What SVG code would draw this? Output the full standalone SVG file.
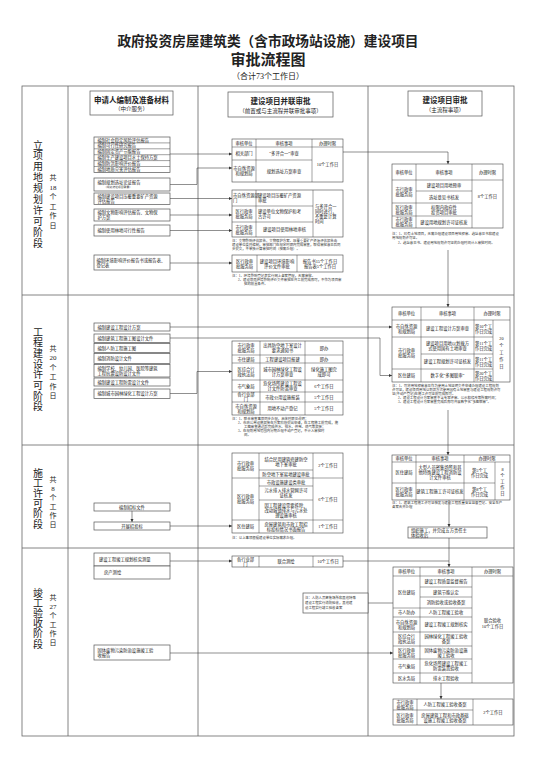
<svg xmlns="http://www.w3.org/2000/svg" width="536" height="757" viewBox="0 0 536 757">
<defs>
<style>
text{font-family:"Liberation Serif","Noto Sans CJK SC",serif;fill:#222}
.c{font-size:4.3px;text-anchor:middle;dominant-baseline:central}
.s{font-size:4.3px;text-anchor:start;dominant-baseline:central}
.n{font-size:3.4px;text-anchor:start;dominant-baseline:central;fill:#333}
.st{font-size:10px;text-anchor:middle;dominant-baseline:central}
.sd{font-size:7px;text-anchor:middle;dominant-baseline:central}
.bx{fill:#fff;stroke:#555;stroke-width:0.7}
.tb{fill:#fff;stroke:#444;stroke-width:0.6}
.gl{fill:none;stroke:#444;stroke-width:0.5}
.cn{fill:none;stroke:#444;stroke-width:0.6}
.fr{fill:none;stroke:#666;stroke-width:0.8}
.h1{font-size:7.5px;font-weight:bold;text-anchor:middle;dominant-baseline:central}
.h2{font-size:5.5px;text-anchor:middle;dominant-baseline:central}
</style>
<marker id="ar" viewBox="0 0 6 6" refX="6" refY="3" markerWidth="3.5" markerHeight="3.5" markerUnits="userSpaceOnUse" orient="auto"><path d="M0,0 L6,3 L0,6 z" fill="#333"/></marker>
</defs>
<rect width="536" height="757" fill="#fff"/>

<g id="title">
<text x="268" y="41" font-size="13.7" font-weight="bold" text-anchor="middle" dominant-baseline="central">政府投资房屋建筑类（含市政场站设施）建设项目</text>
<text x="268" y="60" font-size="15" font-weight="bold" text-anchor="middle" dominant-baseline="central">审批流程图</text>
<text x="268" y="76" font-size="8" text-anchor="middle" dominant-baseline="central">（合计73个工作日）</text>
</g>

<g id="frame">
<rect class="fr" x="22" y="86" width="492" height="650"/>
<path class="fr" d="M68,86V736 M198,86V736 M368,86V736 M22,295H514 M22,445H514 M22,548H514"/>
</g>

<g id="headers">
<g id="hdr-left"><rect class="bx" x="90" y="91" width="83" height="24"/><text class="h1" x="131.5" y="100">申请人编制及准备材料</text><text class="h2" x="131.5" y="109">（中介服务）</text></g>
<g id="hdr-mid"><rect class="bx" x="228" y="92" width="105" height="25"/><text class="h1" x="280.5" y="101">建设项目并联审批</text><text class="h2" x="280.5" y="111">（前置或与主流程并联审批事项）</text></g>
<g id="hdr-right"><rect class="bx" x="408" y="91" width="74" height="25"/><text class="h1" x="445" y="100">建设项目审批</text><text class="h2" x="445" y="110">（主流程事项）</text></g>
</g>

<g id="stage-labels">
<g id="stage1-label">
<text class="st" x="38" y="145">立</text><text class="st" x="38" y="155.9">项</text><text class="st" x="38" y="166.8">用</text><text class="st" x="38" y="177.7">地</text><text class="st" x="38" y="188.6">规</text><text class="st" x="38" y="199.5">划</text><text class="st" x="38" y="210.4">许</text><text class="st" x="38" y="221.3">可</text><text class="st" x="38" y="232.2">阶</text><text class="st" x="38" y="243.1">段</text>
<text class="sd" x="53" y="178">共</text><text class="sd" x="53" y="187.6">18</text><text class="sd" x="53" y="197.2">个</text><text class="sd" x="53" y="206.8">工</text><text class="sd" x="53" y="216.4">作</text><text class="sd" x="53" y="226">日</text>
</g>
<g id="stage2-label">
<text class="st" x="38" y="332">工</text><text class="st" x="38" y="342.7">程</text><text class="st" x="38" y="353.4">建</text><text class="st" x="38" y="364.1">设</text><text class="st" x="38" y="374.8">许</text><text class="st" x="38" y="385.5">可</text><text class="st" x="38" y="396.2">阶</text><text class="st" x="38" y="406.9">段</text>
<text class="sd" x="53" y="349">共</text><text class="sd" x="53" y="358.4">20</text><text class="sd" x="53" y="367.8">个</text><text class="sd" x="53" y="377.2">工</text><text class="sd" x="53" y="386.6">作</text><text class="sd" x="53" y="396">日</text>
</g>
<g id="stage3-label">
<text class="st" x="38" y="473">施</text><text class="st" x="38" y="483.2">工</text><text class="st" x="38" y="493.4">许</text><text class="st" x="38" y="503.6">可</text><text class="st" x="38" y="513.8">阶</text><text class="st" x="38" y="524">段</text>
<text class="sd" x="53" y="480">共</text><text class="sd" x="53" y="489">8</text><text class="sd" x="53" y="498">个</text><text class="sd" x="53" y="507">工</text><text class="sd" x="53" y="516">作</text><text class="sd" x="53" y="525">日</text>
</g>
<g id="stage4-label">
<text class="st" x="38" y="593">竣</text><text class="st" x="38" y="603.2">工</text><text class="st" x="38" y="613.4">验</text><text class="st" x="38" y="623.6">收</text><text class="st" x="38" y="633.8">阶</text><text class="st" x="38" y="644">段</text>
<text class="sd" x="53" y="598">共</text><text class="sd" x="53" y="607">27</text><text class="sd" x="53" y="616">个</text><text class="sd" x="53" y="625">工</text><text class="sd" x="53" y="634">作</text><text class="sd" x="53" y="643">日</text>
</g>
</g>

<g id="connectors">
<path class="cn" marker-end="url(#ar)" d="M170,154H232"/>
<path class="cn" marker-end="url(#ar)" d="M170,184.5H197V168H232"/>
<path class="cn" marker-end="url(#ar)" d="M170,198.5H232"/>
<path class="cn" marker-end="url(#ar)" d="M170,215H232"/>
<path class="cn" marker-end="url(#ar)" d="M170,230.5H232"/>
<path class="cn" marker-end="url(#ar)" d="M170,263H232"/>
<path class="cn" marker-end="url(#ar)" d="M343,152H448V164"/>
<path class="cn" marker-end="url(#ar)" d="M448,250V307"/>
<path class="cn" marker-end="url(#ar)" d="M170,327H392"/>
<path class="cn" marker-end="url(#ar)" d="M170,338H380V375.5H392"/>
<path class="cn" marker-end="url(#ar)" d="M170,393.5H197V371.5H232"/>
<path class="cn" marker-end="url(#ar)" d="M448,410V455"/>
<path class="cn" marker-end="url(#ar)" d="M132,511V522"/>
<path class="cn" marker-end="url(#ar)" d="M170,526H232"/>
<path class="cn" marker-end="url(#ar)" d="M449,500V527"/>
<path class="cn" d="M449,538V561"/>
<path class="cn" marker-end="url(#ar)" d="M170,561H232"/>
<path class="cn" marker-end="url(#ar)" d="M343,561H449V567"/>
<path class="cn" marker-end="url(#ar)" d="M170,653H393"/>
<path class="cn" d="M368,603H393"/>
<path class="cn" marker-end="url(#ar)" d="M441,683V699"/>
</g>

<!-- Stage 1 left -->
<g id="s1-docs-group">
<rect class="bx" x="94" y="137" width="76" height="35.4"/>
<path class="gl" d="M94,142.9H170 M94,148.8H170 M94,154.7H170 M94,160.6H170 M94,166.5H170"/>
<text class="s" x="97.5" y="140">编制社会稳定风险评估报告</text>
<text class="s" x="97.5" y="145.9">编制可行性研究报告</text>
<text class="s" x="97.5" y="151.8">编制固定资产节能报告</text>
<text class="s" x="97.5" y="157.7">编制生产建设项目水土保持方案</text>
<text class="s" x="97.5" y="163.6">编制防洪影响评价报告</text>
<text class="s" x="97.5" y="169.5">编制地质灾害评估报告</text>
</g>
<g id="s1-site"><rect class="bx" x="94" y="178" width="76" height="13"/><text class="s" x="97.5" y="182.5">编制规划选址论证报告</text><text class="n" x="104" y="187.8" style="font-size:2.8px">（规划选址项目需要）</text></g>
<g id="s1-mineral"><rect class="bx" x="94" y="193" width="76" height="11.5"/><text class="s" x="97.5" y="196.3">编制建设项目压覆重要矿产资源</text><text class="s" x="97.5" y="201.2">评估报告</text></g>
<g id="s1-relic"><rect class="bx" x="94" y="209" width="76" height="12"/><text class="s" x="97.5" y="212.5">编制文物影响评估报告、文物保</text><text class="s" x="97.5" y="217.6">护方案</text></g>
<g id="s1-forest"><rect class="bx" x="94" y="225" width="76" height="11"/><text class="s" x="97.5" y="230.5">编制使用林地可行性报告</text></g>
<g id="s1-eia"><rect class="bx" x="94" y="255" width="76" height="15"/><text class="s" x="96.5" y="260">编制环境影响评价报告书或报告表、</text><text class="s" x="96.5" y="265.2">登记表</text></g>

<!-- Stage 1 middle -->
<g id="s1-mid-table1">
<rect class="tb" x="232" y="139" width="111" height="43"/>
<path class="gl" d="M232,147H343 M232,160H312 M256,139V182 M312,139V182"/>
<text class="c" x="244" y="143">审核单位</text><text class="c" x="284" y="143">审核事项</text><text class="c" x="327.5" y="143">办理时限</text>
<text class="c" x="244" y="153.5">相关部门</text><text class="c" x="284" y="153.5">“多评合一”审查</text>
<text class="c" x="244" y="168.5">市自然资源</text><text class="c" x="244" y="173.5">和规划局</text><text class="c" x="284" y="171">规划选址方案审查</text>
<text class="c" x="327.5" y="164.5">10个工作日</text>
</g>
<g id="s1-mid-table2">
<rect class="tb" x="232" y="190" width="111" height="47"/>
<path class="gl" d="M232,206H313 M232,222H313 M256,190V237 M313,190V237"/>
<text class="s" x="233" y="195.5">市自然资源部</text><text class="s" x="233" y="200.5">门</text>
<text class="s" x="258" y="195.5">建设项目压覆矿产资源</text><text class="s" x="258" y="200.5">审批</text>
<text class="c" x="244" y="211.5">区行政审</text><text class="c" x="244" y="216.5">批服务局</text>
<text class="s" x="258" y="211.5">建设单位文物保护和考</text><text class="s" x="258" y="216.5">古许可</text>
<text class="c" x="244" y="227">市行政审</text><text class="c" x="244" y="232">批服务局</text>
<text class="c" x="284.5" y="229.5">建设项目使用林地审核</text>
<text class="s" x="315" y="206">与多评合一</text><text class="s" x="315" y="211">同时进行，</text><text class="s" x="315" y="216">不重复计算</text><text class="s" x="315" y="221">时间</text>
</g>
<g id="s1-mid-note1">
<text class="n" x="232" y="241">注：文物影响评估报告、文物保护方案、压覆重要矿产资源评估报告由</text>
<text class="n" x="232" y="245">建设单位委托编制，审批部门在规定时限内完成审查，取得审批意见后同</text>
<text class="n" x="232" y="249">步提交，不单独计算审批时间（按需办理）。</text>
</g>
<g id="s1-mid-table3">
<rect class="tb" x="232" y="255" width="111" height="17"/>
<path class="gl" d="M257,255V272 M297,255V272"/>
<text class="c" x="244.5" y="261">区行政审</text><text class="c" x="244.5" y="266">批服务局</text>
<text class="c" x="277" y="261">建设项目环境影响</text><text class="c" x="277" y="266">评价文件审批</text>
<text class="c" x="320" y="261">报告书15个工作日</text><text class="c" x="320" y="266">报告表5个工作日</text>
</g>
<g id="s1-mid-note2">
<text class="n" x="232" y="276">注：1、环境影响登记表实行网上备案管理，无需审批。</text>
<text class="n" x="238" y="280">2、建设项目环境影响评价文件审批在开工前完成即可，不作为项目审</text>
<text class="n" x="244" y="284">批的前置条件。</text>
</g>

<!-- Stage 1 right -->
<g id="s1-right-table">
<rect class="tb" x="392" y="164" width="111" height="64"/>
<path class="gl" d="M392,180H503 M416,191H472 M392,203H472 M392,216H472 M416,164V228 M472,164V228"/>
<text class="c" x="404" y="172">审核单位</text><text class="c" x="444" y="172">审核事项</text><text class="c" x="487.5" y="172">办理时限</text>
<text class="c" x="404" y="189">市行政审</text><text class="c" x="404" y="194">批服务局</text>
<text class="c" x="444" y="185.5">建设项目用地预审</text>
<text class="c" x="444" y="197">选址意见书核发</text>
<text class="c" x="404" y="207">区行政审</text><text class="c" x="404" y="212">批服务局</text>
<text class="c" x="444" y="207">权限内政府性</text><text class="c" x="444" y="212">投资项目审批</text>
<text class="c" x="404" y="219.5">市行政审</text><text class="c" x="404" y="224.5">批服务局</text>
<text class="c" x="444" y="222">建设用地规划许可证核发</text>
<text class="c" x="487.5" y="196">8个工作日</text>
</g>
<g id="s1-right-note">
<text class="n" x="392" y="234">注：1、已有土地项目，无需办理建设项目用地预审、选址意见书和建设</text>
<text class="n" x="392" y="238">用地规划许可证。</text>
<text class="n" x="398" y="243">2、选址意见书、建设用地规划许可证的办理时间计入审批时间。</text>
</g>

<!-- Stage 2 left -->
<g id="s2-design"><rect class="bx" x="94" y="323" width="76" height="8"/><text class="s" x="97.5" y="327">编制建设工程设计方案</text></g>
<g id="s2-docs-group">
<rect class="bx" x="94" y="334" width="76" height="8.5"/><text class="s" x="97.5" y="338.2">编制建筑工程施工图设计文件</text>
<rect class="bx" x="94" y="343.5" width="76" height="9"/><text class="s" x="97.5" y="348">编制人防工程施工图</text>
<rect class="bx" x="94" y="353.5" width="76" height="10"/><text class="s" x="97.5" y="358.5">编制消防设计文件</text>
<rect class="bx" x="94" y="364.5" width="76" height="12.5"/><text class="s" x="97.5" y="368.3">编制学校、幼儿园、医院等建筑</text><text class="s" x="97.5" y="373.3">工程抗震设防设计文件</text>
<rect class="bx" x="94" y="378" width="76" height="8"/><text class="s" x="97.5" y="382">编制建设工程防雷设计文件</text>
</g>
<g id="s2-green"><rect class="bx" x="94" y="389" width="76" height="9.5"/><text class="s" x="97.5" y="393.7">编制城市园林绿化工程设计方案</text></g>

<!-- Stage 2 middle -->
<g id="s2-mid-table">
<rect class="tb" x="232" y="341" width="111" height="74"/>
<path class="gl" d="M232,355H343 M232,363H343 M232,380H343 M232,392H343 M232,402H343 M260,341V415 M305,341V415"/>
<text class="c" x="246" y="345.5">市行政审</text><text class="c" x="246" y="350.5">批服务局</text>
<text class="c" x="282.5" y="345.5">出具防空地下室设计</text><text class="c" x="282.5" y="350.5">要求通知书</text>
<text class="c" x="324" y="348">即办</text>
<text class="c" x="246" y="359">市住建局</text><text class="c" x="282.5" y="359">工程建设项目报建</text><text class="c" x="324" y="359">即办</text>
<text class="c" x="246" y="369">区综合行</text><text class="c" x="246" y="374">政执法局</text>
<text class="c" x="282.5" y="369">城市园林绿化工程设</text><text class="c" x="282.5" y="374">计方案审查</text>
<text class="c" x="324" y="369">绿化施工图完</text><text class="c" x="324" y="374">成即可</text>
<text class="c" x="246" y="386">市气象局</text>
<text class="c" x="282.5" y="383.5">危化场所建设工程设</text><text class="c" x="282.5" y="388.5">计文件防雷审查</text>
<text class="c" x="324" y="386">6个工作日</text>
<text class="c" x="246" y="394.5">各行业部</text><text class="c" x="246" y="399.5">门</text>
<text class="c" x="282.5" y="397">市政公用设施报装</text><text class="c" x="324" y="397">5个工作日</text>
<text class="c" x="246" y="406">市自然资源</text><text class="c" x="246" y="411">和规划局</text>
<text class="c" x="282.5" y="408.5">用地不动产登记</text><text class="c" x="324" y="408.5">5个工作日</text>
</g>
<g id="s2-mid-note">
<text class="n" x="232" y="419">注：1、联合审查事项同步办理，具体时限见说明；</text>
<text class="n" x="238" y="423">2、市政公用设施报装在方案阶段提出申请，在工程施工前完成，施</text>
<text class="n" x="244" y="427">工图审查通过后完成供水、排水、供电、燃气等报装；</text>
<text class="n" x="238" y="431">3、在规划用地范围内分期办理不动产登记，不计入审批时</text>
<text class="n" x="244" y="435">间。</text>
</g>

<!-- Stage 2 right -->
<g id="s2-right-table">
<rect class="tb" x="392" y="307" width="118" height="75"/>
<path class="gl" d="M392,320H510 M392,337H493 M421,354H493 M392,369H493 M421,307V382 M474,307V382 M493,320V382"/>
<text class="c" x="406.5" y="313.5">审核单位</text><text class="c" x="447.5" y="313.5">审核事项</text><text class="c" x="492" y="313.5">办理时限</text>
<text class="c" x="406.5" y="326">市自然资源</text><text class="c" x="406.5" y="331">和规划局</text>
<text class="c" x="447.5" y="328.5">建设工程设计方案审查</text>
<text class="c" x="483.5" y="326">第10个工</text><text class="c" x="483.5" y="331">作日完成</text>
<text class="c" x="406.5" y="350.5">市行政审</text><text class="c" x="406.5" y="355.5">批服务局</text>
<text class="c" x="447.5" y="343">建设项目用地以划拨方</text><text class="c" x="447.5" y="348">式使用国有土地审查</text>
<text class="c" x="483.5" y="343">第11个工</text><text class="c" x="483.5" y="348">作日完成</text>
<text class="c" x="447.5" y="361.5">建设工程规划许可证核发</text>
<text class="c" x="483.5" y="359">第11个工</text><text class="c" x="483.5" y="364">作日完成</text>
<text class="c" x="406.5" y="375.5">区住建局</text>
<text class="c" x="447.5" y="375.5">数字化“多图联审”</text>
<text class="c" x="483.5" y="373">第20个工</text><text class="c" x="483.5" y="378">作日完成</text>
<text class="c" x="501.5" y="338">20</text><text class="c" x="501.5" y="345">个</text><text class="c" x="501.5" y="352">工</text><text class="c" x="501.5" y="359">作</text><text class="c" x="501.5" y="366">日</text>
</g>
<g id="s2-right-note">
<text class="n" x="392" y="386">注：1、可将用地预审意见作为使用土地证明文件申请办理建设工程规划</text>
<text class="n" x="392" y="390">许可证，建设项目用地以划拨方式使用国有土地审查与建设工程规划许可</text>
<text class="n" x="392" y="394">证(不动产登记)在施工许可证前完成即可。</text>
<text class="n" x="398" y="398">2、建设工程设计方案审查不含专家评审、公示和修改等所需时间；</text>
<text class="n" x="398" y="402">3、建设工程设计方案审查完成后即可开展数字化“多图联审”。</text>
</g>

<!-- Stage 3 left -->
<g id="s3-tender-doc"><rect class="bx" x="94" y="503" width="76" height="8"/><text class="c" x="132" y="507">编制招标文件</text></g>
<g id="s3-tender"><rect class="bx" x="94" y="522" width="76" height="8"/><text class="c" x="132" y="526">开展招投标</text></g>

<!-- Stage 3 middle -->
<g id="s3-mid-table">
<rect class="tb" x="232" y="453" width="111" height="80"/>
<path class="gl" d="M259,470H313 M232,478H343 M259,486H313 M259,500H313 M232,520H343 M259,453V533 M313,453V533"/>
<text class="c" x="245.5" y="463">市行政审</text><text class="c" x="245.5" y="468">批服务局</text>
<text class="c" x="286" y="459">结合民用建筑修建防空</text><text class="c" x="286" y="464">地下室审批</text>
<text class="c" x="286" y="474">防空地下室易地建设审批</text>
<text class="c" x="328" y="465.5">2个工作日</text>
<text class="c" x="245.5" y="496.5">区行政审</text><text class="c" x="245.5" y="501.5">批服务局</text>
<text class="c" x="286" y="482">市政设施建设类审批</text>
<text class="c" x="286" y="490.5">污水排入排水管网许可</text><text class="c" x="286" y="495.5">证核发</text>
<text class="c" x="286" y="505">因工程建设需要拆除、</text><text class="c" x="286" y="510">改动城镇排水与污水处</text><text class="c" x="286" y="515">理设施审核</text>
<text class="c" x="328" y="499">6个工作日</text>
<text class="c" x="245.5" y="526.5">区住建局</text>
<text class="c" x="286" y="524">房屋建筑和市政工程招</text><text class="c" x="286" y="529">标投标情况书面报告</text>
<text class="c" x="328" y="526.5">1个工作日</text>
</g>
<g id="s3-mid-note"><text class="n" x="232" y="537.5">注：以上事项根据建设单位实际需求办理。</text></g>

<!-- Stage 3 right -->
<g id="s3-right-table">
<rect class="tb" x="392" y="455" width="118" height="45"/>
<path class="gl" d="M392,462H510 M392,483H495 M416,455V500 M464,455V500 M495,462V500"/>
<text class="c" x="404" y="458.5">审核单位</text><text class="c" x="440" y="458.5">审核事项</text><text class="c" x="487" y="458.5">办理时限</text>
<text class="c" x="404" y="472.5">区住建局</text>
<text class="c" x="440" y="467.5">大型人员密集场所和其</text><text class="c" x="440" y="472.5">他特殊建设工程消防设</text><text class="c" x="440" y="477.5">计文件审核</text>
<text class="c" x="479.5" y="470">第5个工</text><text class="c" x="479.5" y="475">作日完成</text>
<text class="c" x="404" y="489">区行政审</text><text class="c" x="404" y="494">批服务局</text>
<text class="c" x="440" y="491.5">建筑工程施工许可证核发</text>
<text class="c" x="479.5" y="489">第8个工</text><text class="c" x="479.5" y="494">作日完成</text>
<text class="c" x="502.5" y="469">8</text><text class="c" x="502.5" y="475">个</text><text class="c" x="502.5" y="481">工</text><text class="c" x="502.5" y="487">作</text><text class="c" x="502.5" y="493">日</text>
</g>
<g id="s3-right-note">
<text class="n" x="392" y="503">注：1、建筑工程施工许可证核发与建设工程质量安全监督登记、安全生产</text>
<text class="n" x="392" y="507">备案合并办理</text>
</g>
<g id="s3-construct"><rect class="bx" x="408" y="527" width="79" height="11"/><text class="s" x="411" y="530">组织施工，并完成五方责任主</text><text class="s" x="411" y="535">体验收后</text></g>

<!-- Stage 4 left -->
<g id="s4-survey-group">
<rect class="bx" x="94" y="553" width="76" height="13"/><text class="s" x="99" y="559.5">建设工程竣工规划核实测量</text>
<rect class="bx" x="94" y="566" width="76" height="13"/><text class="s" x="104" y="572.5">房产测绘</text>
</g>
<g id="s4-waste"><rect class="bx" x="94" y="645" width="76" height="15"/><text class="s" x="97.5" y="650">固体废物污染防治设施竣工验</text><text class="s" x="97.5" y="655.2">收报告</text></g>

<!-- Stage 4 middle -->
<g id="s4-mid-table">
<rect class="tb" x="232" y="556" width="111" height="11"/>
<path class="gl" d="M259,556V567 M313,556V567"/>
<text class="c" x="245.5" y="559">各行业部</text><text class="c" x="245.5" y="564">门</text>
<text class="c" x="286" y="561.5">联合测绘</text>
<text class="c" x="328" y="561.5">10个工作日</text>
</g>
<g id="s4-mid-note">
<rect class="bx" x="303" y="593" width="65" height="20"/>
<text class="n" x="305" y="598">注：人防人员密集场所和其他特殊</text>
<text class="n" x="305" y="603">建设工程实行消防验收，其他建</text>
<text class="n" x="305" y="608">设工程实行竣工验收备案</text>
</g>

<!-- Stage 4 right -->
<g id="s4-right-table">
<rect class="tb" x="393" y="567" width="120" height="116"/>
<path class="gl" d="M393,576H513 M420,587H472 M420,597H472 M393,608H472 M393,617H472 M393,632H472 M393,646H472 M393,659H472 M393,673H472 M420,567V683 M472,567V683"/>
<text class="c" x="406.5" y="571.5">审核单位</text><text class="c" x="446" y="571.5">审核事项</text><text class="c" x="492.5" y="571.5">办理时限</text>
<text class="c" x="406.5" y="592">区住建局</text>
<text class="c" x="446" y="581.5">建设工程质量监督报告</text>
<text class="c" x="446" y="592">建筑节能认定</text>
<text class="c" x="446" y="602.5">消防验收或验收备案</text>
<text class="c" x="406.5" y="612.5">市人防办</text><text class="c" x="446" y="612.5">人防工程竣工验收</text>
<text class="c" x="406.5" y="622">市自然资源</text><text class="c" x="406.5" y="627">和规划局</text>
<text class="c" x="446" y="624.5">建设工程竣工规划核实</text>
<text class="c" x="406.5" y="636.5">区综合行</text><text class="c" x="406.5" y="641.5">政执法局</text>
<text class="c" x="446" y="636.5">园林绿化工程竣工验收</text><text class="c" x="446" y="641.5">备案</text>
<text class="c" x="406.5" y="650">区行政审</text><text class="c" x="406.5" y="655">批服务局</text>
<text class="c" x="446" y="650">固体废物污染防治设施</text><text class="c" x="446" y="655">竣工验收</text>
<text class="c" x="406.5" y="666">市气象局</text>
<text class="c" x="446" y="663.5">危化场所建设工程竣工</text><text class="c" x="446" y="668.5">防雷装置验收</text>
<text class="c" x="406.5" y="678">区水务局</text><text class="c" x="446" y="678">排水工程验收</text>
<text class="c" x="492.5" y="620">联合验收</text><text class="c" x="492.5" y="626">10个工作日</text>
</g>
<g id="s4-filing-table">
<rect class="tb" x="393" y="699" width="120" height="26"/>
<path class="gl" d="M393,710H473 M417,699V725 M473,699V725"/>
<text class="c" x="405" y="702">市行政审</text><text class="c" x="405" y="707">批服务局</text>
<text class="c" x="445" y="704.5">人防工程竣工验收备案</text>
<text class="c" x="405" y="715">区行政审</text><text class="c" x="405" y="720">批服务局</text>
<text class="c" x="445" y="715">房屋建筑工程和市政基础</text><text class="c" x="445" y="720">设施工程竣工验收备案</text>
<text class="c" x="493" y="712">2个工作日</text>
</g>
</svg>
